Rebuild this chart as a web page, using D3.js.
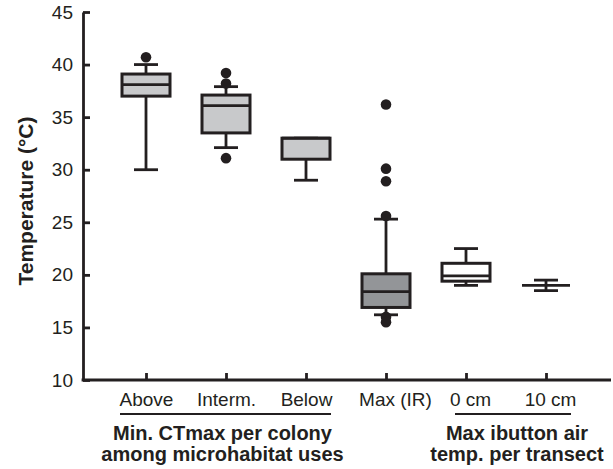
<!DOCTYPE html>
<html>
<head>
<meta charset="utf-8">
<script src="https://cdn.jsdelivr.net/npm/d3@7"></script>
<style>
  body { margin: 0; background: #fff; }
  svg { display: block; font-family: "Liberation Sans", Arial, sans-serif; }
</style>
</head>
<body>
<svg id="chart" width="613" height="469"></svg>
<script>
// values
var categories   = ["Above", "Interm.", "Below", "Max (IR)", "0 cm", "10 cm"];
var lowWhisker   = [30.0, 32.1, 29.0, 16.2, 19.0, 18.5];
var q1           = [37.0, 33.5, 31.0, 16.9, 19.4, 19.0];
var median       = [38.1, 36.1, 33.0, 18.4, 19.9, 19.0];
var q3           = [39.1, 37.1, 33.0, 20.1, 21.1, 19.0];
var highWhisker  = [40.0, 37.9, 33.0, 25.3, 22.5, 19.5];
var outliers     = [[40.7], [39.2, 38.2, 31.1], [], [36.2, 30.1, 28.9, 25.6, 16.0, 15.5], [], []];
var yTicks       = [10, 15, 20, 25, 30, 35, 40, 45];
var groupLabels  = [
  {cats: ["Above", "Below"], lines: ["Min. CTmax per colony", "among microhabitat uses"]},
  {cats: ["0 cm", "10 cm"], lines: ["Max ibutton air", "temp. per transect"]}
];

var ink = "#231f20";
var boxFill = ["#c8c9cb", "#c8c9cb", "#c8c9cb", "#939598", "#ffffff", "#ffffff"];

var svg = d3.select("#chart");
var axisLeft = 83, axisRight = 611, axisBottom = 380, axisTop = 12;

var x = d3.scalePoint().domain(categories).range([146, 546]);
var y = d3.scaleLinear().domain([10, 45]).range([axisBottom, axisTop]);

var boxW = 48, capW = 24;

var data = categories.map(function(c, i) {
  return {cat: c, lo: lowWhisker[i], q1: q1[i], med: median[i], q3: q3[i],
          hi: highWhisker[i], out: outliers[i], fill: boxFill[i]};
});

// y axis
var yAxis = svg.append("g")
  .attr("transform", "translate(" + axisLeft + ",0)")
  .call(d3.axisLeft(y).tickValues(yTicks).tickSize(-7).tickSizeOuter(0).tickPadding(10));
yAxis.select(".domain").attr("stroke", ink).attr("stroke-width", 2.8);
yAxis.selectAll(".tick line").attr("stroke", ink).attr("stroke-width", 2.8);
yAxis.selectAll(".tick text").attr("fill", ink).style("font-size", "19px")
  .style("font-family", "'Liberation Sans', Arial, sans-serif");

// x axis
var xAxis = svg.append("g")
  .attr("transform", "translate(0," + axisBottom + ")")
  .call(d3.axisBottom(x).tickSize(-7).tickSizeOuter(0).tickPadding(12.5));
xAxis.select(".domain").remove();
xAxis.append("line")
  .attr("x1", axisLeft - 1.4).attr("x2", axisRight)
  .attr("stroke", ink).attr("stroke-width", 2.8);
xAxis.selectAll(".tick line").attr("stroke", ink).attr("stroke-width", 2.8);
xAxis.selectAll(".tick text").attr("fill", ink).style("font-size", "19px")
  .style("font-family", "'Liberation Sans', Arial, sans-serif")
  .attr("dx", function(d) { return d === "Max (IR)" ? 9 : (d === "0 cm" || d === "10 cm" ? 4 : 0); });

// group labels under the axis
groupLabels.forEach(function(g, k) {
  var x0 = x(g.cats[0]) - 26, x1 = x(g.cats[1]) + 25;
  if (k === 1) { x0 = x(g.cats[0]) - 11; }
  svg.append("line")
    .attr("x1", x0).attr("x2", x1).attr("y1", 414).attr("y2", 414)
    .attr("stroke", ink).attr("stroke-width", 2);
  var cx = (x0 + x1) / 2 + (k === 1 ? 4 : -3);
  g.lines.forEach(function(t, j) {
    svg.append("text")
      .attr("x", cx).attr("y", 440 + j * 21)
      .attr("text-anchor", "middle")
      .attr("fill", ink)
      .style("font-size", "20px").style("font-weight", "bold")
      .text(t);
  });
});

// y title
svg.append("text")
  .attr("transform", "translate(33,201) rotate(-90)")
  .attr("text-anchor", "middle")
  .attr("fill", ink)
  .style("font-size", "21px").style("font-weight", "bold")
  .text("Temperature (°C)");

// boxes
var boxes = svg.selectAll(".box")
  .data(data).enter().append("g")
  .attr("class", "box")
  .attr("transform", function(d) { return "translate(" + x(d.cat) + ",0)"; });

boxes.append("line")
  .attr("y1", function(d) { return y(d.hi); })
  .attr("y2", function(d) { return y(d.lo); })
  .attr("stroke", ink).attr("stroke-width", 2.8);

boxes.selectAll(".cap")
  .data(function(d) { return [d.lo, d.hi]; })
  .enter().append("line")
  .attr("class", "cap")
  .attr("x1", -capW / 2).attr("x2", capW / 2)
  .attr("y1", function(v) { return y(v); })
  .attr("y2", function(v) { return y(v); })
  .attr("stroke", ink).attr("stroke-width", 2.8);

boxes.append("rect")
  .attr("x", -boxW / 2).attr("width", boxW)
  .attr("y", function(d) { return y(d.q3); })
  .attr("height", function(d) { return y(d.q1) - y(d.q3); })
  .attr("fill", function(d) { return d.fill; })
  .attr("stroke", ink).attr("stroke-width", 3);

boxes.append("line")
  .attr("x1", -boxW / 2).attr("x2", boxW / 2)
  .attr("y1", function(d) { return y(d.med); })
  .attr("y2", function(d) { return y(d.med); })
  .attr("stroke", ink).attr("stroke-width", 2.8);

boxes.selectAll(".out")
  .data(function(d) { return d.out; })
  .enter().append("circle")
  .attr("class", "out")
  .attr("cy", function(v) { return y(v); })
  .attr("r", 5.3)
  .attr("fill", ink);
</script>
</body>
</html>
